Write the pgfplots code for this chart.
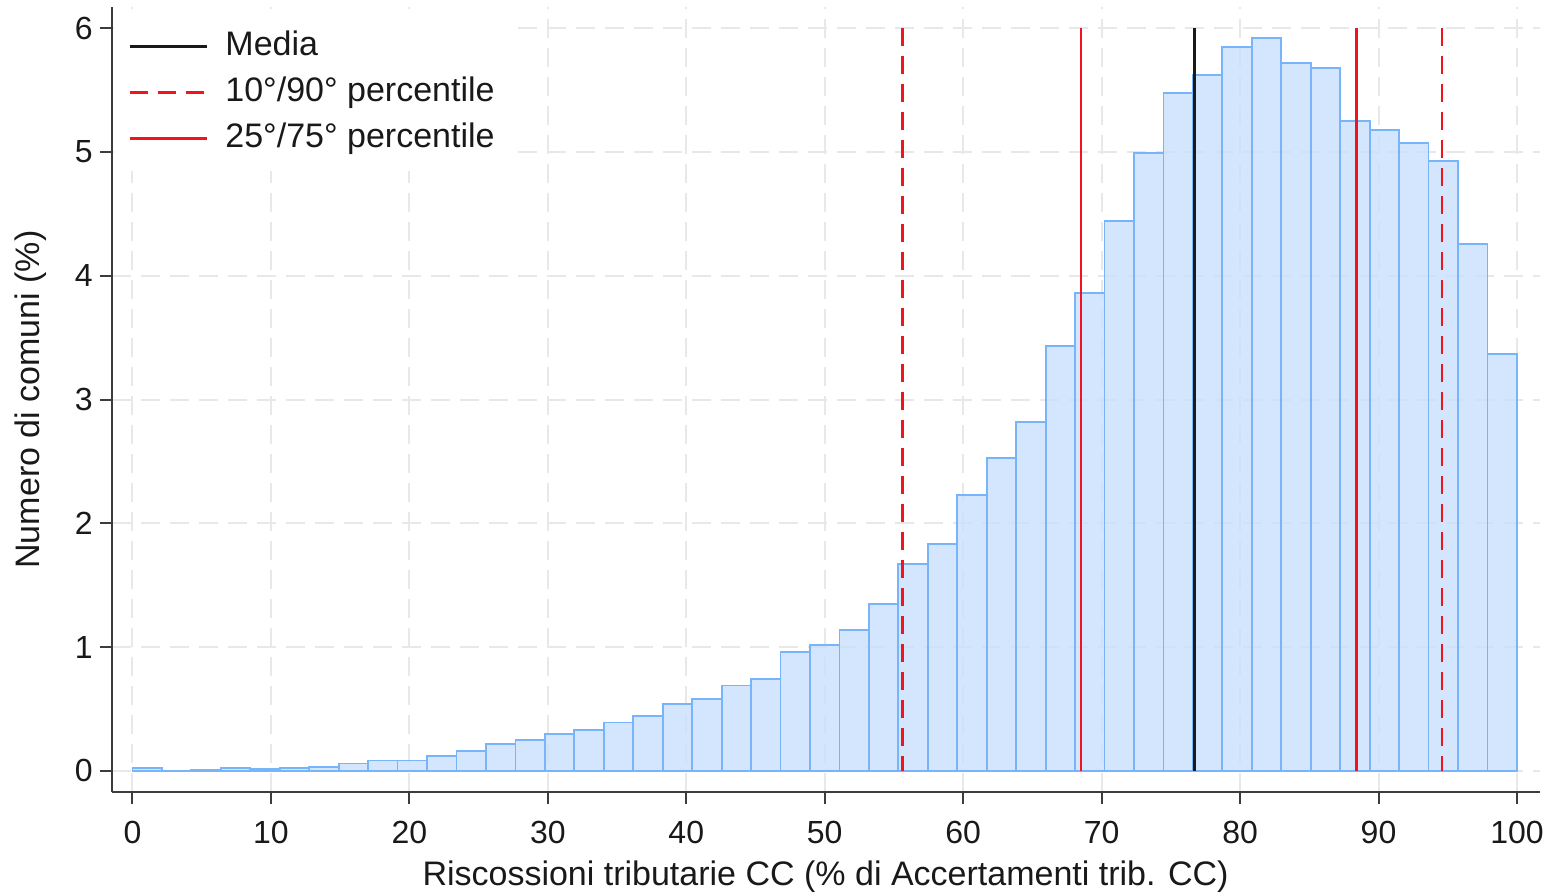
\documentclass[border=0pt]{standalone}
\usepackage{fontspec}
\setmainfont{Liberation Sans}
\usepackage{pgfplots}
\pgfplotsset{compat=1.18}
\definecolor{barfill}{RGB}{200,224,252}
\definecolor{baredge}{RGB}{120,180,250}
\definecolor{gridc}{RGB}{232,232,232}
\definecolor{pred}{RGB}{240,20,30}
\definecolor{axc}{RGB}{60,60,60}
\begin{document}
\begin{tikzpicture}
\path[use as bounding box] (-55.85pt,-51.5pt) rectangle (719.15pt,396pt);
\begin{axis}[
  at={(0,0)}, anchor=south west,
  scale only axis, width=713.9pt, height=392.5pt,
  xmin=-1.5, xmax=101.63, ymin=-0.171, ymax=6.172,
  axis x line*=bottom, axis y line*=left,
  axis line style={-, line width=1pt, axc},
  xtick={0,10,...,100}, ytick={0,1,...,6},
  tick pos=left, tick align=outside, major tick length=6pt,
  tick style={line width=1pt, axc},
  grid=major,
  major grid style={line width=1pt, gridc, dash pattern=on 9.5pt off 5pt},
  ticklabel style={font=\fontsize{16}{18}\selectfont, text=black!90},
  xticklabel style={yshift=-5pt},
  /pgf/number format/assume math mode=true,
  xlabel={Riscossioni tributarie CC (\% di Accertamenti trib. CC)},
  ylabel={Numero di comuni (\%)},
  label style={font=\fontsize{17}{20}\selectfont, text=black!90},
  xlabel style={at={(axis description cs:0.5,-0.1185)}, anchor=base},
  ylabel style={at={(axis description cs:-0.0569,0.5)}, anchor=center},
  legend cell align=left,
  legend image code/.code={\draw[#1] (0pt,0pt) -- (38.5pt,0pt);},
  legend style={at={(axis description cs:0.0015,0.9908)}, anchor=north west,
    draw=none, fill=white, font=\fontsize{17}{20}\selectfont, text=black!90,
    inner xsep=7pt, inner ysep=8pt, row sep=6.9pt, column sep=8.8pt,
    nodes={inner sep=0pt, text height=12.5pt, text depth=3.6pt, anchor=west}},
]
\addplot[ybar interval, fill=barfill, fill opacity=0.8, draw=baredge, line width=0.9pt, forget plot] coordinates {
(0,0.02) (2.128,0.003) (4.255,0.01) (6.383,0.02) (8.511,0.018) (10.638,0.025) (12.766,0.03)
(14.894,0.06) (17.021,0.083) (19.149,0.083) (21.277,0.12) (23.404,0.16) (25.532,0.215)
(27.660,0.25) (29.787,0.30) (31.915,0.33) (34.043,0.39) (36.170,0.44) (38.298,0.54)
(40.426,0.58) (42.553,0.69) (44.681,0.74) (46.809,0.96) (48.936,1.02) (51.064,1.14)
(53.191,1.35) (55.319,1.67) (57.447,1.83) (59.574,2.23) (61.702,2.53) (63.830,2.82)
(65.957,3.43) (68.085,3.86) (70.213,4.44) (72.340,4.99) (74.468,5.48) (76.596,5.62)
(78.723,5.85) (80.851,5.92) (82.979,5.72) (85.106,5.68) (87.234,5.25) (89.362,5.18)
(91.489,5.07) (93.617,4.93) (95.745,4.26) (97.872,3.37) (100,3.37)
};
\addplot[black!90, line width=1.3pt] coordinates {(76.7,0) (76.7,6)};
\addlegendentry{Media}
\addplot[pred, line width=1.3pt, dash pattern=on 9pt off 5pt] coordinates {(55.6,6) (55.6,0)};
\addlegendentry{10°/90° percentile}
\addplot[pred, line width=1.3pt] coordinates {(68.5,0) (68.5,6)};
\addlegendentry{25°/75° percentile}
\addplot[pred, line width=1.3pt, dash pattern=on 9pt off 5pt, forget plot] coordinates {(94.6,6) (94.6,0)};
\addplot[pred, line width=1.3pt, forget plot] coordinates {(88.4,0) (88.4,6)};
\end{axis}
\end{tikzpicture}
\end{document}
